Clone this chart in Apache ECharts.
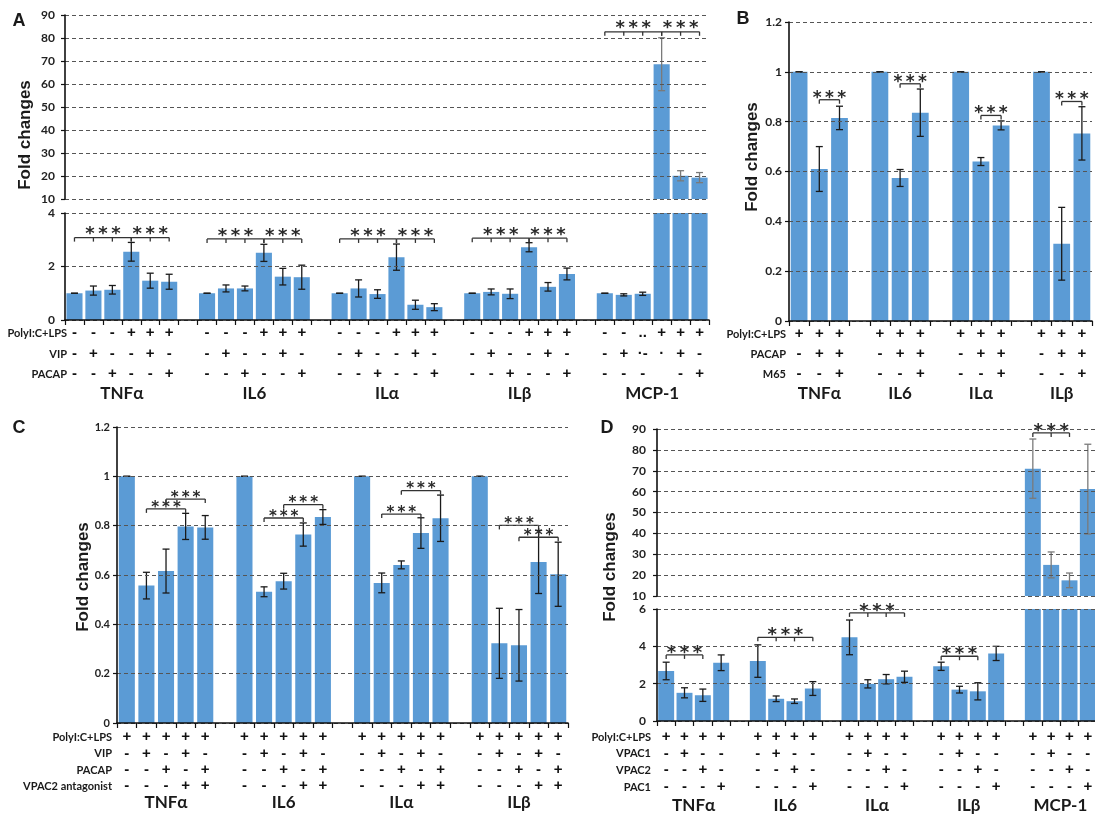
<!DOCTYPE html>
<html><head><meta charset="utf-8">
<script src="https://cdn.jsdelivr.net/npm/echarts@6/dist/echarts.min.js"></script>
<style>html,body{margin:0;padding:0;background:#fff}#c{width:1095px;height:816px}</style>
</head><body><div id="c"></div>
<script>
// ================= DATA =================
// ---- Panel A ----
const A_groups = ['TNFα','IL6','ILα','ILβ','MCP-1'];
const A_TNFa = [1.00,1.10,1.13,2.55,1.47,1.43];
const A_TNFa_err = [0,0.17,0.16,0.35,0.28,0.28];
const A_IL6 = [1.00,1.18,1.18,2.51,1.62,1.60];
const A_IL6_err = [0,0.13,0.09,0.32,0.31,0.45];
const A_ILa = [1.00,1.18,0.97,2.35,0.57,0.48];
const A_ILa_err = [0,0.32,0.16,0.49,0.17,0.13];
const A_ILb = [1.00,1.05,0.98,2.72,1.24,1.72];
const A_ILb_err = [0,0.11,0.18,0.17,0.16,0.22];
const A_MCP1 = [1.00,0.94,0.98,68.6,20.1,19.3];
const A_MCP1_err = [0,0.04,0.06,11.5,2.2,2.2];
const A_rowNames = ['PolyI:C+LPS','VIP','PACAP'];
const A_rowPoly = ['-','-','-','+','+','+'];
const A_rowVIP = ['-','+','-','-','+','-'];
const A_rowPACAP = ['-','-','+','-','-','+'];
const A_rowPolyMCP = ['-','-','..','+','+','+'];
const A_rowVIPMCP = ['-','+','·-','·','+','-'];
const A_rowPACAPMCP = ['-','-','-','','-','+'];
// brackets: [group, fromBar, toBar, y, ticksAtEveryBar]
const A_bracketsLow = [[0,0,3,3.08,1],[0,3,5,3.08,1],[1,0,3,3.03,1],[1,3,5,3.03,1],
                       [2,0,3,3.03,1],[2,3,5,3.03,1],[3,0,3,3.06,1],[3,3,5,3.06,1]];
const A_bracketsHigh = [[4,0,3,82.7,1],[4,3,5,82.7,1]];
const A_yTop = [10,90,10];   // min, max, interval
const A_yLow = [0,4,2];

// ---- Panel B ----
const B_groups = ['TNFα','IL6','ILα','ILβ'];
const B_TNFa = [1,0.61,0.815];   const B_TNFa_err = [0,0.09,0.047];
const B_IL6 = [1,0.574,0.836];   const B_IL6_err = [0,0.034,0.095];
const B_ILa = [1,0.64,0.785];    const B_ILa_err = [0,0.016,0.018];
const B_ILb = [1,0.31,0.753];    const B_ILb_err = [0,0.146,0.107];
const B_rowNames = ['PolyI:C+LPS','PACAP','M65'];
const B_rowPoly = ['+','+','+'];
const B_rowPACAP = ['-','+','+'];
const B_rowM65 = ['-','-','+'];
const B_brackets = [[0,1,2,0.888,0],[1,1,2,0.952,0],[2,1,2,0.825,0],[3,1,2,0.881,0]];
const B_y = [0,1.2,0.2];

// ---- Panel C ----
const C_groups = ['TNFα','IL6','ILα','ILβ'];
const C_TNFa = [1,0.557,0.616,0.797,0.793]; const C_TNFa_err = [0,0.054,0.089,0.053,0.048];
const C_IL6 = [1,0.532,0.575,0.764,0.835];  const C_IL6_err = [0,0.02,0.032,0.047,0.03];
const C_ILa = [1,0.568,0.641,0.770,0.830];  const C_ILa_err = [0,0.04,0.016,0.062,0.094];
const C_ILb = [1,0.323,0.315,0.653,0.603];  const C_ILb_err = [0,0.142,0.145,0.128,0.13];
const C_rowNames = ['PolyI:C+LPS','VIP','PACAP','VPAC2 antagonist'];
const C_rowPoly = ['+','+','+','+','+'];
const C_rowVIP = ['-','+','-','+','-'];
const C_rowPACAP = ['-','-','+','-','+'];
const C_rowVPAC2 = ['-','-','-','+','+'];
const C_brackets = [[0,1,3,0.868,0],[0,2,4,0.908,0],[1,1,3,0.831,0],[1,2,4,0.885,0],
                    [2,1,3,0.847,0],[2,2,4,0.942,0],[3,1,3,0.801,0],[3,2,4,0.753,0]];
const C_y = [0,1.2,0.2];

// ---- Panel D ----
const D_groups = ['TNFα','IL6','ILα','ILβ','MCP-1'];
const D_TNFa = [2.68,1.51,1.38,3.12];  const D_TNFa_err = [0.47,0.27,0.33,0.42];
const D_IL6 = [3.21,1.19,1.06,1.74];   const D_IL6_err = [0.87,0.15,0.12,0.37];
const D_ILa = [4.48,1.99,2.24,2.37];   const D_ILa_err = [0.93,0.22,0.25,0.30];
const D_ILb = [2.93,1.68,1.59,3.62];   const D_ILb_err = [0.22,0.18,0.46,0.38];
const D_MCP1 = [71.0,24.9,17.5,61.2];  const D_MCP1_err = [14.2,6.2,3.5,21.5];
const D_rowNames = ['PolyI:C+LPS','VPAC1','VPAC2','PAC1'];
const D_rowPoly = ['+','+','+','+'];
const D_rowVPAC1 = ['-','+','-','-'];
const D_rowVPAC2 = ['-','-','+','-'];
const D_rowPAC1 = ['-','-','-','+'];
const D_bracketsLow = [[0,0,2,3.54,1],[1,0,3,4.48,1],[2,0,3,5.79,1],[3,0,2,3.47,1]];
const D_bracketsHigh = [[4,0,2,88.1,1]];
const D_yTop = [10,90,10];
const D_yLow = [0,6,2];

// ================= BUILD =================
const BLUE = '#5B9BD5';
const FONT = 'Lato, "Open Sans", "DejaVu Sans", sans-serif';
const TITLEFONT = '"Liberation Sans", Arial, sans-serif';
const SIGNFONT = '"Liberation Sans", Arial, sans-serif';
const STARFONT = '"DejaVu Sans", sans-serif';
const STARS = '*\u2009*\u2009*';

function flatten(vals, errs) {
  const cats = [], bars = [], ebars = [], starts = [];
  vals.forEach((g, gi) => {
    if (gi > 0) { cats.push('gap' + gi); bars.push(null); }
    starts.push(cats.length);
    g.forEach((v, i) => {
      cats.push(gi + '_' + i); bars.push(v);
      ebars.push([cats.length - 1, v, errs[gi][i]]);
    });
  });
  return {cats, bars, ebars, starts};
}
function brk(list, starts) {
  return list.map(b => [starts[b[0]] + b[1], starts[b[0]] + b[2], b[3], b[4]]);
}
const PA = flatten([A_TNFa,A_IL6,A_ILa,A_ILb,A_MCP1],[A_TNFa_err,A_IL6_err,A_ILa_err,A_ILb_err,A_MCP1_err]);
const PB = flatten([B_TNFa,B_IL6,B_ILa,B_ILb],[B_TNFa_err,B_IL6_err,B_ILa_err,B_ILb_err]);
const PC = flatten([C_TNFa,C_IL6,C_ILa,C_ILb],[C_TNFa_err,C_IL6_err,C_ILa_err,C_ILb_err]);
const PD = flatten([D_TNFa,D_IL6,D_ILa,D_ILb,D_MCP1],[D_TNFa_err,D_IL6_err,D_ILa_err,D_ILb_err,D_MCP1_err]);

const A_rows = [A_rowPoly,A_rowVIP,A_rowPACAP];
const A_rowsByGroup = [A_rows,A_rows,A_rows,A_rows,[A_rowPolyMCP,A_rowVIPMCP,A_rowPACAPMCP]];
const B_rows = [B_rowPoly,B_rowPACAP,B_rowM65];
const C_rows = [C_rowPoly,C_rowVIP,C_rowPACAP,C_rowVPAC2];
const D_rows = [D_rowPoly,D_rowVPAC1,D_rowVPAC2,D_rowPAC1];

function fmt(rowsByGroup) {
  return function (val) {
    if (String(val).indexOf('gap') === 0) return '';
    const p = String(val).split('_').map(Number);
    return rowsByGroup[p[0]].map(r => r[p[1]]).join('\n');
  };
}

const grids = [
  {left:65, top:15, width:644, height:184},
  {left:65, top:213, width:644, height:107},
  {left:789, top:22, width:303, height:299},
  {left:117, top:427, width:451, height:296},
  {left:657, top:429, width:440, height:167},
  {left:657, top:609, width:440, height:112}
].map(g => Object.assign({outerBoundsMode:'none', containLabel:false}, g));

function xAx(gi, cats, formatter, margin, lh, show) {
  return {
    gridIndex: gi, type: 'category', data: cats, show: show, z: 8,
    axisLine: {show: true, onZero: false, lineStyle: {color: '#111', width: 1.6}},
    axisTick: {show: true, interval: 0, length: 5, lineStyle: {color: '#111', width: 1.2}},
    axisLabel: {show: true, interval: 0, formatter: formatter, fontFamily: SIGNFONT, fontWeight: 'bold',
      fontSize: 15, color: '#111', lineHeight: lh, margin: margin, hideOverlap: false},
    splitLine: {show: false}
  };
}
function yAx(gi, mmi, margin, fs) {
  return {
    gridIndex: gi, type: 'value', min: mmi[0], max: mmi[1], interval: mmi[2], z: 8,
    axisLine: {show: true, lineStyle: {color: '#111', width: 1.6}},
    axisTick: {show: true, length: 4, lineStyle: {color: '#111', width: 1.2}},
    axisLabel: {fontFamily: FONT, fontWeight: 'bold', fontSize: fs || 12, color: '#222', margin: margin},
    splitLine: {show: true, lineStyle: {type: [4, 3], color: '#555', width: 1}}
  };
}

function barSeries(gi, data, gap) {
  return {type: 'bar', xAxisIndex: gi, yAxisIndex: gi, data: data, barCategoryGap: gap,
    itemStyle: {color: BLUE}, silent: true, z: 2};
}
function errSeries(gi, data, color) {
  return {type: 'custom', xAxisIndex: gi, yAxisIndex: gi, data: data, encode: {x: 0, y: 1},
    silent: true, z: 5,
    renderItem: function (params, api) {
      const x = api.value(0), m = api.value(1), e = api.value(2);
      const cs = params.coordSys;
      const t = api.coord([x, m + e]), b = api.coord([x, m - e]);
      const y0 = cs.y - 0.5, y1 = cs.y + cs.height + 0.5;
      if (b[1] < y0 || t[1] > y1) return null;
      const cx = t[0], w = 3.5, st = {stroke: color, lineWidth: 1.3};
      const ch = [{type: 'line', shape: {x1: cx, y1: Math.max(t[1], y0), x2: cx, y2: Math.min(b[1], y1)}, style: st}];
      if (t[1] >= y0) ch.push({type: 'line', shape: {x1: cx - w, y1: t[1], x2: cx + w, y2: t[1]}, style: st});
      if (b[1] <= y1) ch.push({type: 'line', shape: {x1: cx - w, y1: b[1], x2: cx + w, y2: b[1]}, style: st});
      return {type: 'group', children: ch};
    }};
}
function bracketSeries(gi, data, fs, dy) {
  return {type: 'custom', xAxisIndex: gi, yAxisIndex: gi, data: data, encode: {x: [0, 1], y: 2},
    silent: true, z: 6,
    renderItem: function (params, api) {
      const x0 = api.value(0), x1 = api.value(1), y = api.value(2), all = api.value(3);
      const p0 = api.coord([x0, y]), p1 = api.coord([x1, y]);
      const st = {stroke: '#333', lineWidth: 1.3};
      const ch = [{type: 'line', shape: {x1: p0[0], y1: p0[1], x2: p1[0], y2: p1[1]}, style: st}];
      for (let k = x0; k <= x1; k++) {
        if (all || k === x0 || k === x1) {
          const p = api.coord([k, y]);
          ch.push({type: 'line', shape: {x1: p[0], y1: p[1], x2: p[0], y2: p[1] + 4}, style: st});
        }
      }
      ch.push({type: 'text', x: (p0[0] + p1[0]) / 2, y: p0[1] + dy,
        style: {text: STARS, fill: '#2a2a2a', font: 'bold ' + fs + 'px ' + STARFONT, align: 'center', verticalAlign: 'middle'}});
      return {type: 'group', children: ch};
    }};
}

const option = {
  animation: false,
  backgroundColor: '#fff',
  grid: grids,
  xAxis: [
    xAx(0, PA.cats, fmt(A_rowsByGroup), 3, 20.5, false),
    xAx(1, PA.cats, fmt(A_rowsByGroup), 3, 20.5, true),
    xAx(2, PB.cats, fmt([B_rows,B_rows,B_rows,B_rows]), 3, 20, true),
    xAx(3, PC.cats, fmt([C_rows,C_rows,C_rows,C_rows]), 6, 16.3, true),
    xAx(4, PD.cats, fmt([D_rows,D_rows,D_rows,D_rows,D_rows]), 7.7, 16.6, false),
    xAx(5, PD.cats, fmt([D_rows,D_rows,D_rows,D_rows,D_rows]), 7.7, 16.6, true)
  ],
  yAxis: [
    yAx(0, A_yTop, 10), yAx(1, A_yLow, 10), yAx(2, B_y, 7), yAx(3, C_y, 7, 11), yAx(4, D_yTop, 11), yAx(5, D_yLow, 11)
  ],
  series: [
    barSeries(0, PA.bars, '15%'), barSeries(1, PA.bars, '15%'),
    barSeries(2, PB.bars, '17%'), barSeries(3, PC.bars, '18%'),
    barSeries(4, PD.bars, '13%'), barSeries(5, PD.bars, '13%'),
    errSeries(0, PA.ebars, '#7a7a7a'), errSeries(1, PA.ebars, '#1a1a1a'),
    errSeries(2, PB.ebars, '#1a1a1a'), errSeries(3, PC.ebars, '#1a1a1a'),
    errSeries(4, PD.ebars, '#7a7a7a'), errSeries(5, PD.ebars, '#1a1a1a'),
    bracketSeries(0, brk(A_bracketsHigh, PA.starts), 18, -3),
    bracketSeries(1, brk(A_bracketsLow, PA.starts), 18, -3),
    bracketSeries(2, brk(B_brackets, PB.starts), 17, -1.5),
    bracketSeries(3, brk(C_brackets, PC.starts), 15, -1.2),
    bracketSeries(4, brk(D_bracketsHigh, PD.starts), 18, -2),
    bracketSeries(5, brk(D_bracketsLow, PD.starts), 18, -2)
  ]
};

const chart = echarts.init(document.getElementById('c'), null, {renderer: 'canvas'});
chart.setOption(option);

// ---------- text annotations ----------
const g = [];
function txt(x, y, text, font, align, rot) {
  g.push({type: 'text', x: x, y: y, rotation: rot || 0, silent: true, z: 10,
    style: {text: text, font: font, fill: '#1a1a1a', align: align || 'center', verticalAlign: 'middle'}});
}
const letterFont = 'bold 18px ' + TITLEFONT;
txt(19, 21, 'A', letterFont); txt(743, 19, 'B', letterFont);
txt(19, 428, 'C', letterFont); txt(607, 428, 'D', letterFont);
const foldFont = 'bold 17px ' + TITLEFONT;
txt(25, 135, 'Fold changes', foldFont, 'center', Math.PI / 2);
txt(752, 157, 'Fold changes', foldFont, 'center', Math.PI / 2);
txt(83, 577, 'Fold changes', foldFont, 'center', Math.PI / 2);
txt(610, 567, 'Fold changes', foldFont, 'center', Math.PI / 2);

const rowFont = 'bold 11px ' + FONT;
function rowTitles(names, xr, ys) { names.forEach((n, i) => txt(xr, ys[i], n, rowFont, 'right')); }
rowTitles(A_rowNames, 67, [333, 354, 374]);
rowTitles(B_rowNames, 786, [334, 354, 374]);
rowTitles(C_rowNames, 112, [737, 753.5, 770, 786]);
rowTitles(D_rowNames, 651, [737, 753.5, 770, 787]);

const nameFont = 'bold 17px ' + FONT;
function groupNames(names, P, gi, sizes, y) {
  names.forEach((n, k) => {
    const a = chart.convertToPixel({gridIndex: gi}, [P.starts[k], 0]);
    const b = chart.convertToPixel({gridIndex: gi}, [P.starts[k] + sizes[k] - 1, 0]);
    txt((a[0] + b[0]) / 2, y, n, nameFont);
  });
}
groupNames(A_groups, PA, 1, [6,6,6,6,6], 394);
groupNames(B_groups, PB, 2, [3,3,3,3], 394);
groupNames(C_groups, PC, 3, [5,5,5,5], 803);
groupNames(D_groups, PD, 5, [4,4,4,4,4], 806);

chart.setOption({graphic: g});
</script>
</body></html>
